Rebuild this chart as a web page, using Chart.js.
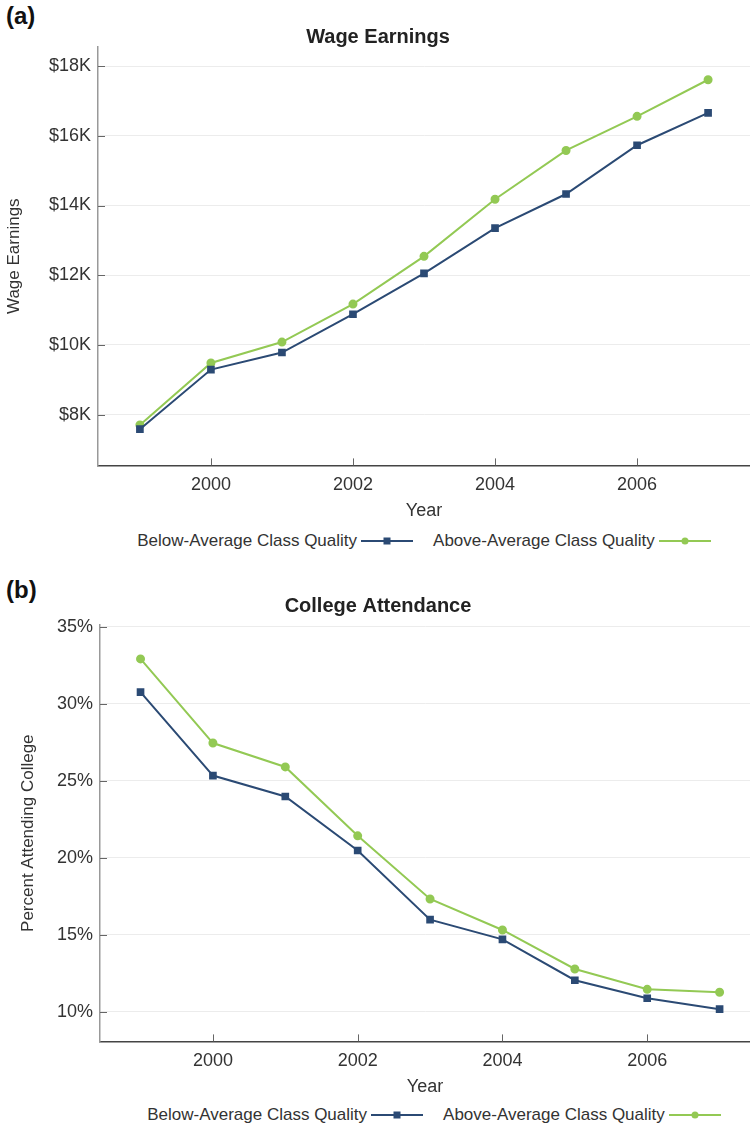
<!DOCTYPE html>
<html>
<head>
<meta charset="utf-8">
<script src="https://cdn.jsdelivr.net/npm/chart.js@4"></script>
<style>
  body { margin: 0; background: #fff; font-family: "Liberation Sans", Arial, sans-serif; overflow: hidden; }
  .panel { position: absolute; left: 0; width: 756px; }
  .tag { position: absolute; left: 6px; font-weight: bold; font-size: 24px; color: #111; }
  .legend { position: absolute; width: 652px; display: flex; justify-content: center; align-items: center; font-size: 17px; color: #333; }
  .legend .item { display: flex; align-items: center; margin: 0 10px; }
  .legend .swatch { position: relative; width: 52px; height: 2px; margin-left: 4px; }
  .legend .mark { position: absolute; left: 50%; top: 50%; width: 7px; height: 7px; transform: translate(-50%, -50%); }
</style>
</head>
<body>
<div class="tag" style="top:2px">(a)</div>
<div class="panel" style="top:0; height:524px"><canvas id="wageChart"></canvas></div>
<div class="legend" id="wageLegend" style="top:531px; left:98px"></div>

<div class="tag" style="top:576px">(b)</div>
<div class="panel" style="top:560px; height:540px"><canvas id="collegeChart"></canvas></div>
<div class="legend" id="collegeLegend" style="top:1105px; left:108px"></div>

<script>
// Data
const years = [1999, 2000, 2001, 2002, 2003, 2004, 2005, 2006, 2007];
const wageBelow = [7.58, 9.29, 9.78, 10.88, 12.05, 13.35, 14.33, 15.73, 16.66]; // $K
const wageAbove = [7.70, 9.48, 10.08, 11.17, 12.54, 14.18, 15.58, 16.56, 17.61]; // $K
const collegeBelow = [30.74, 25.33, 23.97, 20.47, 15.98, 14.70, 12.05, 10.88, 10.17]; // %
const collegeAbove = [32.90, 27.44, 25.89, 21.42, 17.32, 15.31, 12.78, 11.46, 11.27]; // %
const yearTicks = [2000, 2002, 2004, 2006];
const wageTicks = [8, 10, 12, 14, 16, 18];
const collegeTicks = [10, 15, 20, 25, 30, 35];
const seriesNames = ["Below-Average Class Quality", "Above-Average Class Quality"];

const navy = "#2b4a74";
const green = "#93c954";
const textColor = "#333";
const font = "'Liberation Sans', Arial, sans-serif";

// pair each value with its year
function points(values) {
  return values.map((v, i) => ({ x: years[i], y: v }));
}

// small tick marks drawn inside the plot, on both axes
const innerTicks = {
  id: "innerTicks",
  afterDraw(chart) {
    const ctx = chart.ctx;
    const area = chart.chartArea;
    const xs = chart.scales.x, ys = chart.scales.y;
    ctx.save();
    ctx.strokeStyle = "#666";
    ctx.lineWidth = 1;
    ctx.beginPath();
    xs.ticks.forEach(t => {
      const px = Math.round(xs.getPixelForValue(t.value)) + 0.5;
      ctx.moveTo(px, area.bottom);
      ctx.lineTo(px, area.bottom - 7);
    });
    ys.ticks.forEach(t => {
      const py = Math.round(ys.getPixelForValue(t.value)) + 0.5;
      ctx.moveTo(area.left, py);
      ctx.lineTo(area.left + 7, py);
    });
    ctx.stroke();
    ctx.restore();
  }
};

function makeChart(id, title, yTitle, below, above, yRange, yTicks, yFormat, xRange, leftWidth, yTitlePad, titlePad) {
  const ctx = document.getElementById(id).getContext("2d");
  return new Chart(ctx, {
    type: "line",
    data: {
      datasets: [
        { label: seriesNames[0], data: points(below), borderColor: navy, backgroundColor: navy,
          borderWidth: 2, pointStyle: "rect", pointRadius: 4, tension: 0 },
        { label: seriesNames[1], data: points(above), borderColor: green, backgroundColor: green,
          borderWidth: 2, pointStyle: "circle", pointRadius: 3.5, tension: 0 }
      ]
    },
    options: {
      responsive: true,
      maintainAspectRatio: false,
      animation: false,
      layout: { padding: 0 },
      plugins: {
        legend: { display: false },
        tooltip: { enabled: false },
        title: {
          display: true, text: title, color: "#222",
          font: { family: font, size: 20, weight: "bold", lineHeight: 1 },
          padding: titlePad
        }
      },
      scales: {
        x: {
          type: "linear", min: xRange[0], max: xRange[1],
          afterBuildTicks: axis => { axis.ticks = yearTicks.map(v => ({ value: v })); },
          grid: { display: false, drawTicks: false },
          border: { color: "#444", width: 1.5 },
          ticks: { color: textColor, padding: 9, font: { family: font, size: 18 },
                   callback: v => String(v) },
          title: { display: true, text: "Year", color: textColor,
                   font: { family: font, size: 18, lineHeight: 1 }, padding: { top: -3, bottom: 4 } }
        },
        y: {
          min: yRange[0], max: yRange[1],
          afterBuildTicks: axis => { axis.ticks = yTicks.map(v => ({ value: v })); },
          afterFit: scale => { scale.width = leftWidth; },
          grid: { color: "#ececec", drawTicks: false },
          border: { color: "#999", width: 1.5 },
          ticks: { color: textColor, padding: 7, font: { family: font, size: 18 }, callback: yFormat },
          title: { display: true, text: yTitle, color: textColor,
                   font: { family: font, size: 17 }, padding: { top: yTitlePad, bottom: 0 } }
        }
      }
    },
    plugins: [innerTicks]
  });
}

// legend with the text first and the line + marker after it
function buildLegend(id) {
  const box = document.getElementById(id);
  const colors = [navy, green];
  seriesNames.forEach((name, i) => {
    const item = document.createElement("div");
    item.className = "item";
    const label = document.createElement("span");
    label.textContent = name;
    const swatch = document.createElement("span");
    swatch.className = "swatch";
    swatch.style.background = colors[i];
    const mark = document.createElement("span");
    mark.className = "mark";
    mark.style.background = colors[i];
    if (i === 1) mark.style.borderRadius = "50%";
    swatch.appendChild(mark);
    item.appendChild(label);
    item.appendChild(swatch);
    box.appendChild(item);
  });
}

makeChart("wageChart", "Wage Earnings", "Wage Earnings", wageBelow, wageAbove,
  [6.54, 18.55], wageTicks, v => "$" + v + "K", [1998.41, 2007.59], 98, 4, { top: 27, bottom: 0 });
makeChart("collegeChart", "College Attendance", "Percent Attending College", collegeBelow, collegeAbove,
  [8.08, 35.1], collegeTicks, v => v + "%", [1998.44, 2007.42], 100, 18, { top: 36, bottom: 9 });

buildLegend("wageLegend");
buildLegend("collegeLegend");
</script>
</body>
</html>
